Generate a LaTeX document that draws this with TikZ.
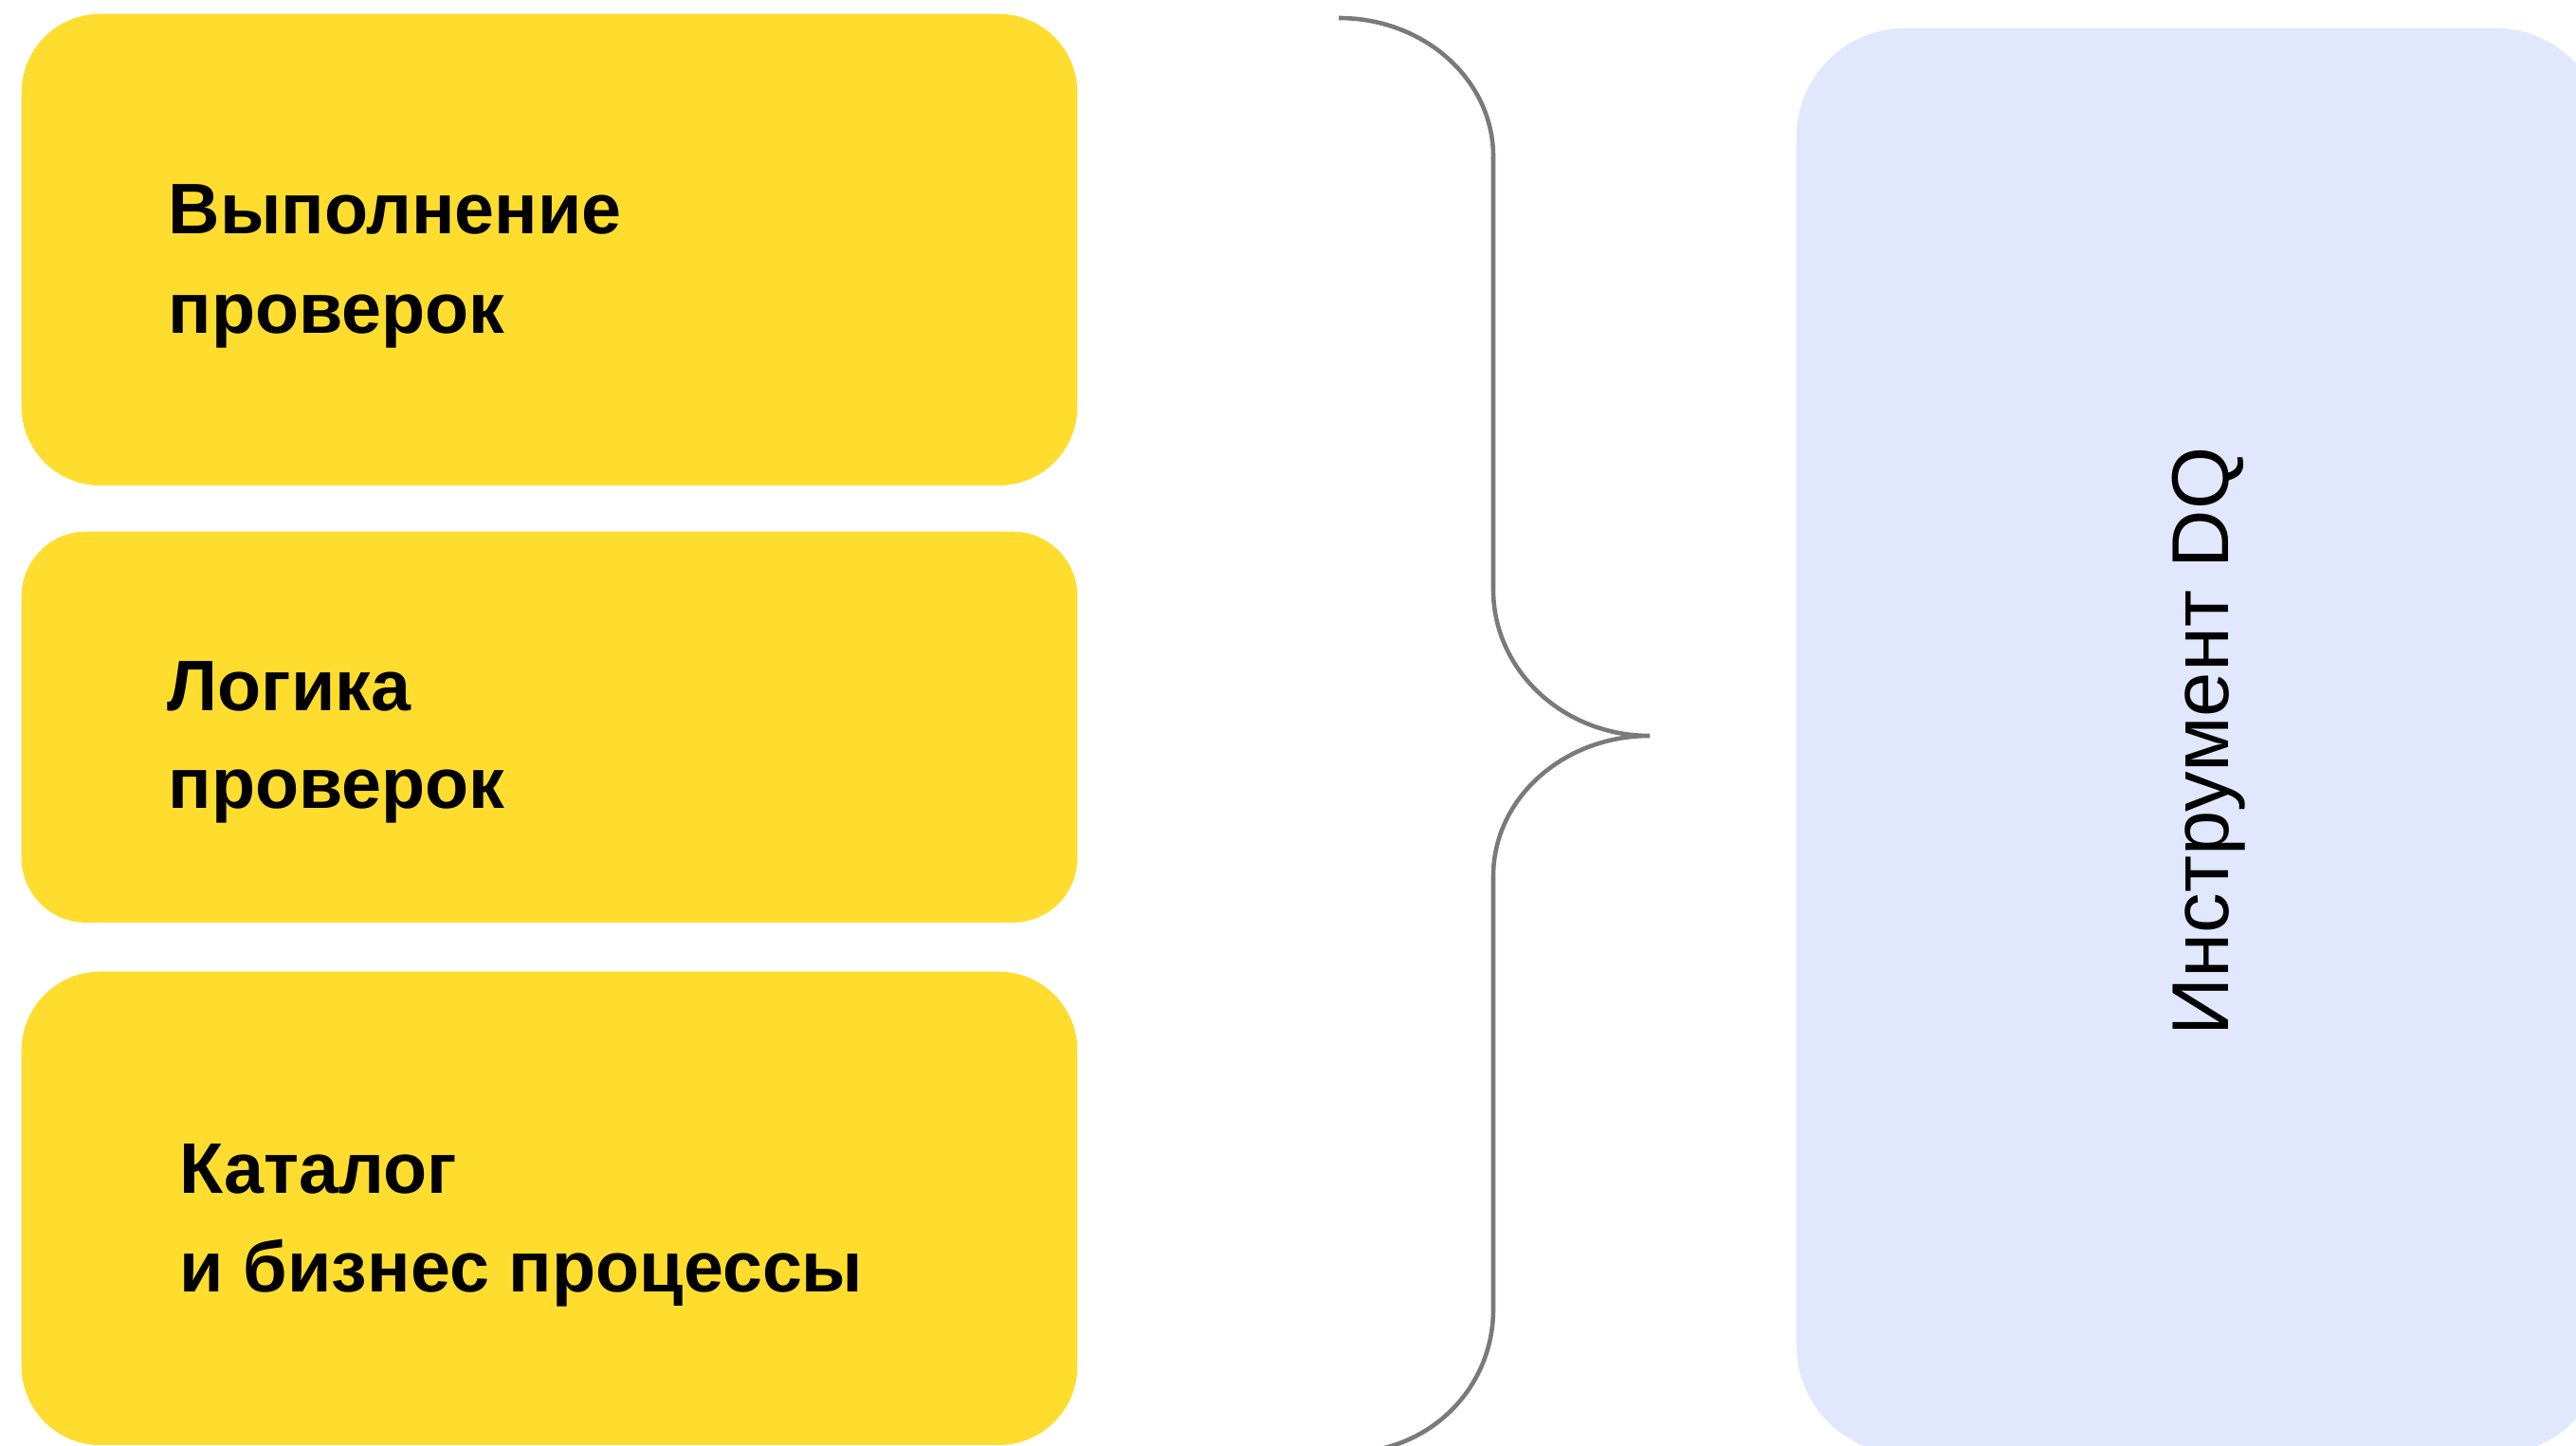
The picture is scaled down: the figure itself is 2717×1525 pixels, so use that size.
\documentclass[tikz,border=0pt]{standalone}
\usepackage{fontspec}
\setmainfont{Liberation Sans}
\definecolor{cardyellow}{RGB}{254,221,46}
\definecolor{toolblue}{RGB}{225,232,253}
\definecolor{bracegray}{RGB}{122,122,122}
\begin{document}
\begin{tikzpicture}[x=0.01cm,y=-0.01cm,
  card/.style={fill=cardyellow, draw=none, anchor=north west, inner sep=0,
    minimum width=11.13cm},
  cardtext/.style={anchor=base west, inner sep=0, text=black,
    font=\fontsize{21.45pt}{26pt}\selectfont\bfseries},
  toolbox/.style={fill=toolblue, draw=none, anchor=north west, inner sep=0,
    minimum width=8.52cm, minimum height=15.03cm, rounded corners=1.15cm},
  tooltext/.style={inner sep=0, text=black,
    font=\fontsize{24.2pt}{29pt}\selectfont},
  braceline/.style={draw=bracegray, line width=1.3pt}]
\useasboundingbox (0,0) rectangle (2717,1525);
\clip (0,0) rectangle (2717,1525);

% yellow cards on the left
\node[card, minimum height=4.97cm, rounded corners=0.83cm] (run) at (22,14) {};
\node[card, minimum height=4.12cm, rounded corners=0.68cm] (logic) at (22,560) {};
\node[card, minimum height=4.99cm, rounded corners=0.83cm] (catalog) at (22,1024) {};

\node[cardtext] (runA) at (177,247) {Выполнение};
\node[cardtext] (runB) at (177,352) {проверок};
\node[cardtext] (logicA) at (176,750) {Логика};
\node[cardtext] (logicB) at (177,853) {проверок};
\node[cardtext] (catA) at (189,1258) {Каталог};
\node[cardtext] (catB) at (189,1362) {и бизнес процессы};

% the tool panel on the right
\node[toolbox] (tool) at (1894,29) {};
\node[tooltext, rotate=90, anchor=base] (toolname) at (2350,782) {Инструмент DQ};

% curly brace joining the cards to the tool
\coordinate (btop) at (1412,19);
\coordinate (btip) at (1740,776);
\coordinate (bbot) at (1420,1532);
\draw[braceline] (btop)
  .. controls (1502,19) and (1575,84) .. (1575,165)
  -- (1575,622)
  .. controls (1575,707) and (1649,776) .. (btip)
  .. controls (1649,776) and (1575,842) .. (1575,924)
  -- (1575,1381)
  .. controls (1575,1464) and (1508,1532) .. (bbot);
\end{tikzpicture}
\end{document}
